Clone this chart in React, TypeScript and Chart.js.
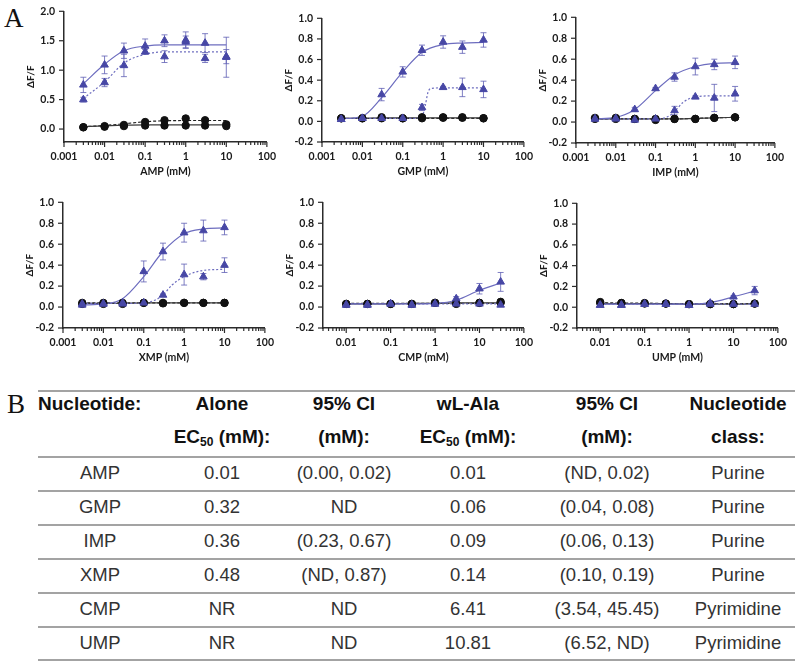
import React, { useEffect, useRef } from 'react';
import { Chart, registerables } from 'chart.js';
Chart.register(...registerables);

// ---------- data ----------
const concPurine = [0.003, 0.01, 0.03, 0.1, 0.3, 1, 3, 10];
const concPyrimidine = [0.01, 0.03, 0.1, 0.3, 1, 3, 10, 30];
const xTicksFull = [0.001, 0.01, 0.1, 1, 10, 100];
const xTicksShort = [0.01, 0.1, 1, 10, 100];
const yTicksAMP = [0, 0.5, 1, 1.5, 2];
const yTicksStd = [-0.2, 0, 0.2, 0.4, 0.6, 0.8, 1.0];

// AMP
const ampLAla = [0.75, 1.09, 1.33, 1.41, 1.5, 1.51, 1.46, 1.22];
const ampLAlaErr = [0.13, 0.15, 0.13, 0.12, 0.1, 0.14, 0.16, 0.34];
const ampAlone = [0.5, 0.79, 1.08, 1.31, 1.23, 1.48, 1.2, 1.23];
const ampAloneErr = [0.04, 0.07, 0.19, 0.04, 0.1, 0.1, 0.07, 0.12];
const ampCtrlLAla = [0.03, 0.04, 0.05, 0.06, 0.06, 0.06, 0.06, 0.05];
const ampCtrlAlone = [0.03, 0.05, 0.07, 0.12, 0.15, 0.18, 0.15, 0.08];
const ampFitLAla = [0.77, 1.1, 1.33, 1.41, 1.43, 1.43, 1.43, 1.43];
const ampFitAlone = [0.52, 0.8, 1.12, 1.27, 1.31, 1.31, 1.31, 1.31];
const ampFitCtrlLAla = [0.04, 0.055, 0.065, 0.07, 0.07, 0.07, 0.07, 0.07];
const ampFitCtrlAlone = [0.04, 0.06, 0.09, 0.125, 0.14, 0.145, 0.145, 0.145];

// GMP
const gmpLAla = [0.02, 0.03, 0.26, 0.48, 0.69, 0.77, 0.72, 0.79];
const gmpLAlaErr = [0.01, 0.01, 0.06, 0.05, 0.05, 0.06, 0.06, 0.07];
const gmpAlone = [0.02, 0.03, 0.03, 0.03, 0.135, 0.33, 0.33, 0.31];
const gmpAloneErr = [0, 0, 0, 0, 0.03, 0.01, 0.09, 0.08];
const gmpCtrlLAla = [0.03, 0.03, 0.04, 0.03, 0.04, 0.04, 0.04, 0.03];
const gmpCtrlAlone = [0.03, 0.03, 0.03, 0.03, 0.03, 0.035, 0.035, 0.03];
const gmpFitLAla = [0.025, 0.05, 0.23, 0.48, 0.67, 0.745, 0.76, 0.765];
const gmpFitAloneX = [0.003, 0.01, 0.03, 0.1, 0.2, 0.3, 0.36, 0.42, 0.5, 1, 3, 10];
const gmpFitAlone = [0.03, 0.03, 0.03, 0.03, 0.03, 0.05, 0.15, 0.28, 0.32, 0.325, 0.325, 0.325];
const gmpFitCtrlLAla = [0.03, 0.03, 0.035, 0.035, 0.035, 0.035, 0.035, 0.035];
const gmpFitCtrlAlone = [0.03, 0.03, 0.03, 0.03, 0.03, 0.03, 0.03, 0.03];

// IMP
const impLAla = [0.03, 0.035, 0.12, 0.32, 0.43, 0.53, 0.55, 0.57];
const impLAlaErr = [0.01, 0.01, 0.02, 0.01, 0.04, 0.08, 0.05, 0.06];
const impAlone = [0.03, 0.03, 0.02, 0.03, 0.11, 0.24, 0.23, 0.27];
const impAloneErr = [0.01, 0.01, 0.02, 0.01, 0.04, 0.01, 0.13, 0.07];
const impCtrlLAla = [0.04, 0.04, 0.03, 0.03, 0.03, 0.03, 0.04, 0.045];
const impCtrlAlone = [0.03, 0.03, 0.03, 0.02, 0.03, 0.03, 0.04, 0.045];
const impFitLAla = [0.03, 0.045, 0.12, 0.3, 0.45, 0.53, 0.56, 0.565];
const impFitAloneX = [0.003, 0.01, 0.03, 0.1, 0.2, 0.3, 0.5, 1, 3, 10];
const impFitAlone = [0.03, 0.03, 0.03, 0.03, 0.05, 0.1, 0.19, 0.24, 0.25, 0.25];
const impFitCtrlLAla = [0.03, 0.03, 0.03, 0.03, 0.03, 0.035, 0.04, 0.045];
const impFitCtrlAlone = [0.03, 0.03, 0.03, 0.03, 0.03, 0.035, 0.04, 0.045];

// XMP
const xmpLAla = [0.02, 0.03, 0.03, 0.34, 0.53, 0.71, 0.73, 0.76];
const xmpLAlaErr = [0.01, 0.01, 0.01, 0.1, 0.08, 0.09, 0.1, 0.07];
const xmpAlone = [0.03, 0.03, 0.04, 0.04, 0.115, 0.31, 0.29, 0.4];
const xmpAloneErr = [0.01, 0.01, 0.01, 0.01, 0.01, 0.1, 0.03, 0.07];
const xmpCtrlLAla = [0.03, 0.03, 0.03, 0.04, 0.035, 0.04, 0.04, 0.04];
const xmpCtrlAlone = [0.04, 0.04, 0.04, 0.04, 0.04, 0.04, 0.04, 0.04];
const xmpFitLAla = [0.02, 0.03, 0.08, 0.29, 0.53, 0.7, 0.745, 0.755];
const xmpFitAloneX = [0.003, 0.01, 0.03, 0.1, 0.2, 0.3, 0.5, 1, 3, 10];
const xmpFitAlone = [0.035, 0.035, 0.035, 0.04, 0.07, 0.115, 0.21, 0.29, 0.35, 0.36];
const xmpFitCtrlLAla = [0.035, 0.035, 0.035, 0.04, 0.04, 0.04, 0.04, 0.04];
const xmpFitCtrlAlone = [0.04, 0.04, 0.04, 0.04, 0.04, 0.04, 0.04, 0.04];

// CMP
const cmpLAla = [0.02, 0.02, 0.03, 0.02, 0.03, 0.08, 0.175, 0.24];
const cmpLAlaErr = [0.01, 0.01, 0.01, 0.01, 0.01, 0.02, 0.05, 0.09];
const cmpAlone = [0.02, 0.02, 0.03, 0.02, 0.03, 0.03, 0.03, 0.02];
const cmpAloneErr = [0.01, 0.01, 0, 0.01, 0.01, 0.01, 0.01, 0.01];
const cmpCtrlLAla = [0.03, 0.03, 0.03, 0.03, 0.04, 0.04, 0.04, 0.04];
const cmpCtrlAlone = [0.03, 0.03, 0.03, 0.03, 0.04, 0.03, 0.04, 0.05];
const cmpFitLAla = [0.03, 0.03, 0.03, 0.03, 0.035, 0.065, 0.16, 0.23];
const cmpFitAlone = [0.03, 0.03, 0.03, 0.03, 0.03, 0.03, 0.03, 0.03];
const cmpFitCtrlLAla = [0.03, 0.03, 0.03, 0.035, 0.035, 0.04, 0.04, 0.04];
const cmpFitCtrlAlone = [0.035, 0.035, 0.035, 0.035, 0.035, 0.035, 0.035, 0.035];

// UMP
const umpLAla = [0.02, 0.02, 0.03, 0.03, 0.02, 0.04, 0.1, 0.16];
const umpLAlaErr = [0.01, 0.01, 0.01, 0.01, 0.01, 0.01, 0.01, 0.04];
const umpAlone = [0.02, 0.02, 0.03, 0.03, 0.02, 0.03, 0.03, 0.03];
const umpAloneErr = [0.01, 0.01, 0.01, 0.01, 0.01, 0.01, 0.01, 0.01];
const umpCtrlLAla = [0.04, 0.04, 0.035, 0.035, 0.03, 0.03, 0.03, 0.035];
const umpCtrlAlone = [0.05, 0.04, 0.04, 0.035, 0.03, 0.03, 0.03, 0.035];
const umpFitLAla = [0.03, 0.03, 0.03, 0.03, 0.03, 0.045, 0.1, 0.155];
const umpFitAlone = [0.03, 0.03, 0.03, 0.03, 0.03, 0.03, 0.03, 0.03];
const umpFitCtrlLAla = [0.035, 0.035, 0.035, 0.035, 0.03, 0.03, 0.03, 0.035];
const umpFitCtrlAlone = [0.045, 0.04, 0.04, 0.035, 0.035, 0.035, 0.035, 0.035];

// Table
const tableNucleotides = ['AMP', 'GMP', 'IMP', 'XMP', 'CMP', 'UMP'];
const aloneEC50 = ['0.01', '0.32', '0.36', '0.48', 'NR', 'NR'];
const aloneCI = ['(0.00, 0.02)', 'ND', '(0.23, 0.67)', '(ND, 0.87)', 'ND', 'ND'];
const lalaEC50 = ['0.01', '0.06', '0.09', '0.14', '6.41', '10.81'];
const lalaCI = ['(ND, 0.02)', '(0.04, 0.08)', '(0.06, 0.13)', '(0.10, 0.19)', '(3.54, 45.45)', '(6.52, ND)'];
const nucClass = ['Purine', 'Purine', 'Purine', 'Purine', 'Pyrimidine', 'Pyrimidine'];

// ---------- plugins ----------
const errorBarPlugin = {
  id: 'errbars',
  beforeDatasetsDraw(chart: any) {
    const ctx = chart.ctx;
    const xs = chart.scales.x;
    const ys = chart.scales.y;
    chart.data.datasets.forEach((ds: any) => {
      if (!ds.errors) return;
      ctx.save();
      ctx.strokeStyle = ds.errColor;
      ctx.lineWidth = 1;
      ds.data.forEach((pt: any, i: number) => {
        const e = ds.errors[i];
        if (!e) return;
        const px = xs.getPixelForValue(pt.x);
        const y1 = ys.getPixelForValue(pt.y + e);
        const y2 = ys.getPixelForValue(pt.y - e);
        ctx.beginPath();
        ctx.moveTo(px, y1);
        ctx.lineTo(px, y2);
        ctx.moveTo(px - 3, y1);
        ctx.lineTo(px + 3, y1);
        ctx.moveTo(px - 3, y2);
        ctx.lineTo(px + 3, y2);
        ctx.stroke();
      });
      ctx.restore();
    });
  },
};

const tickPlugin = {
  id: 'tickmarks',
  afterDraw(chart: any) {
    const { ctx, chartArea } = chart;
    const xs = chart.scales.x;
    const ys = chart.scales.y;
    ctx.save();
    ctx.strokeStyle = '#2b2b2b';
    ctx.lineWidth = 1.2;
    const min = xs.min;
    const max = xs.max;
    for (let e = Math.floor(Math.log10(min)); e <= Math.ceil(Math.log10(max)); e++) {
      for (let m = 1; m <= 9; m++) {
        const v = m * Math.pow(10, e);
        if (v < min * 0.999 || v > max * 1.001) continue;
        const px = xs.getPixelForValue(v);
        ctx.beginPath();
        ctx.moveTo(px, chartArea.bottom);
        ctx.lineTo(px, chartArea.bottom + (m === 1 ? 5 : 3));
        ctx.stroke();
      }
    }
    ys.ticks.forEach((t: any) => {
      const py = ys.getPixelForValue(t.value);
      ctx.beginPath();
      ctx.moveTo(chartArea.left - 5, py);
      ctx.lineTo(chartArea.left, py);
      ctx.stroke();
    });
    ctx.restore();
  },
};

// ---------- panel ----------
type PanelProps = {
  L: number; R: number; T: number; B: number;
  xMin: number; xMax: number; xTicks: number[];
  yMin: number; yMax: number; yTicks: number[];
  title: string;
  conc: number[];
  lala: number[]; lalaErr: number[];
  alone: number[]; aloneErr: number[];
  ctrlLala: number[]; ctrlAlone: number[];
  fitLala: number[]; fitAloneX?: number[]; fitAlone: number[];
  fitCtrlLala: number[]; fitCtrlAlone: number[];
};

const TRI = '#4747a5';
const TRI_LINE = '#6d6dbf';
const TRI_ERR = 'rgba(95,95,180,0.8)';
const BLACK = '#111111';
const FONT = "Lato, 'DejaVu Sans', sans-serif";

function Panel(p: PanelProps) {
  const ref = useRef<HTMLCanvasElement>(null);
  const W = p.R - p.L + 44 + 14;
  const H = p.B - p.T + 8 + 38;
  useEffect(() => {
    const pts = (xs: number[], ys: number[]) => xs.map((x, i) => ({ x, y: ys[i] }));
    const tickFont = { family: FONT, weight: 'bold' as const, size: 10.5 };
    const chart = new Chart(ref.current!, {
      type: 'line',
      data: {
        datasets: [
          { data: pts(p.conc, p.lala), showLine: false, pointStyle: 'triangle', pointRadius: 4.4, backgroundColor: TRI, borderColor: TRI, borderWidth: 1, order: 1, errors: p.lalaErr, errColor: TRI_ERR } as any,
          { data: pts(p.conc, p.alone), showLine: false, pointStyle: 'triangle', pointRadius: 4.4, backgroundColor: TRI, borderColor: TRI, borderWidth: 1, order: 2, errors: p.aloneErr, errColor: TRI_ERR } as any,
          { data: pts(p.conc, p.ctrlLala), showLine: false, pointStyle: 'circle', pointRadius: 3.7, backgroundColor: BLACK, borderColor: BLACK, order: 3 } as any,
          { data: pts(p.conc, p.ctrlAlone), showLine: false, pointStyle: 'circle', pointRadius: 3.7, backgroundColor: BLACK, borderColor: BLACK, order: 4 } as any,
          { data: pts(p.conc, p.fitLala), pointRadius: 0, borderColor: TRI_LINE, borderWidth: 1.2, cubicInterpolationMode: 'monotone', order: 5 } as any,
          { data: pts(p.fitAloneX || p.conc, p.fitAlone), pointRadius: 0, borderColor: TRI_LINE, borderWidth: 1.2, borderDash: [2, 2], cubicInterpolationMode: 'monotone', order: 6 } as any,
          { data: pts(p.conc, p.fitCtrlLala), pointRadius: 0, borderColor: '#3a3a3a', borderWidth: 1.2, cubicInterpolationMode: 'monotone', order: 7 } as any,
          { data: pts(p.conc, p.fitCtrlAlone), pointRadius: 0, borderColor: '#222', borderWidth: 1.2, borderDash: [3, 2], cubicInterpolationMode: 'monotone', order: 8 } as any,
        ],
      },
      options: {
        animation: false,
        responsive: false,
        maintainAspectRatio: false,
        layout: { padding: { left: 0, right: 14, top: 8, bottom: 0 } },
        plugins: { legend: { display: false }, tooltip: { enabled: false } },
        scales: {
          x: {
            type: 'logarithmic',
            min: p.xMin,
            max: p.xMax,
            afterBuildTicks: (s: any) => { s.ticks = p.xTicks.map((v) => ({ value: v })); },
            afterFit: (s: any) => { s.height = 38; },
            grid: { display: false, drawTicks: false, tickLength: 0 },
            border: { display: true, color: '#2b2b2b', width: 1.5 },
            ticks: { autoSkip: false, maxRotation: 0, padding: 8, color: '#1a1a1a', font: tickFont, callback: (v: any) => String(v) },
            title: { display: true, text: p.title, color: '#1a1a1a', font: { family: FONT, weight: 'bold', size: 10.5 } as any, padding: { top: 0, bottom: 2 } },
          },
          y: {
            type: 'linear',
            min: p.yMin,
            max: p.yMax,
            afterBuildTicks: (s: any) => { s.ticks = p.yTicks.map((v) => ({ value: v })); },
            afterFit: (s: any) => { s.width = 44; },
            grid: { display: false, drawTicks: false, tickLength: 0 },
            border: { display: true, color: '#2b2b2b', width: 1.5 },
            ticks: { padding: 9, color: '#1a1a1a', font: tickFont, callback: (v: any) => Number(v).toFixed(1) },
            title: { display: true, text: 'ΔF/F', color: '#1a1a1a', font: { family: FONT, weight: 'bold', size: 10 } as any, padding: { top: 5, bottom: 0 } },
          },
        },
      } as any,
      plugins: [errorBarPlugin, tickPlugin],
    });
    return () => chart.destroy();
  }, []);
  return (
    <canvas
      ref={ref}
      width={W}
      height={H}
      style={{ position: 'absolute', left: p.L - 44, top: p.T - 8, width: W, height: H }}
    />
  );
}

// ---------- table ----------
const colCenters = [100, 222, 344, 468, 607, 738];
const lineYs = [390, 456, 490, 524, 558, 592, 626, 659];
const TABLE_FONT = "'Liberation Sans', Arial, sans-serif";

function Cell({ cx, cy, children, bold }: { cx: number; cy: number; children: any; bold?: boolean }) {
  return (
    <div
      style={{
        position: 'absolute', left: cx - 90, top: cy - 11, width: 180, height: 22, lineHeight: '22px',
        textAlign: 'center', whiteSpace: 'nowrap',
        fontFamily: TABLE_FONT,
        fontWeight: bold ? 700 : 400, fontSize: bold ? 19 : 18.5, color: bold ? '#111' : '#333',
      }}
    >
      {children}
    </div>
  );
}

const EC = () => (
  <span>EC<span style={{ fontSize: 12, position: 'relative', top: 3 }}>50</span> (mM):</span>
);

function Table() {
  const rowCy = (i: number) => (lineYs[i + 1] + lineYs[i + 2]) / 2;
  return (
    <>
      {lineYs.map((y, i) => (
        <div key={'l' + i} style={{ position: 'absolute', left: 38, top: y, width: 757, height: 1.5, background: '#a3a3a3' }} />
      ))}
      <div style={{ position: 'absolute', left: 38, top: 404 - 11, height: 22, lineHeight: '22px', fontFamily: TABLE_FONT, fontWeight: 700, fontSize: 19, color: '#111' }}>Nucleotide:</div>
      <Cell cx={colCenters[1]} cy={404} bold>Alone</Cell>
      <Cell cx={colCenters[2]} cy={404} bold>95% CI</Cell>
      <Cell cx={colCenters[3]} cy={404} bold>wL-Ala</Cell>
      <Cell cx={colCenters[4]} cy={404} bold>95% CI</Cell>
      <Cell cx={colCenters[5]} cy={404} bold>Nucleotide</Cell>
      <Cell cx={colCenters[1]} cy={437} bold><EC /></Cell>
      <Cell cx={colCenters[2]} cy={437} bold>(mM):</Cell>
      <Cell cx={colCenters[3]} cy={437} bold><EC /></Cell>
      <Cell cx={colCenters[4]} cy={437} bold>(mM):</Cell>
      <Cell cx={colCenters[5]} cy={437} bold>class:</Cell>
      {tableNucleotides.map((n, i) => (
        <React.Fragment key={n}>
          <Cell cx={colCenters[0]} cy={rowCy(i)}>{n}</Cell>
          <Cell cx={colCenters[1]} cy={rowCy(i)}>{aloneEC50[i]}</Cell>
          <Cell cx={colCenters[2]} cy={rowCy(i)}>{aloneCI[i]}</Cell>
          <Cell cx={colCenters[3]} cy={rowCy(i)}>{lalaEC50[i]}</Cell>
          <Cell cx={colCenters[4]} cy={rowCy(i)}>{lalaCI[i]}</Cell>
          <Cell cx={colCenters[5]} cy={rowCy(i)}>{nucClass[i]}</Cell>
        </React.Fragment>
      ))}
    </>
  );
}

export default function App() {
  const letter = { position: 'absolute' as const, fontFamily: "'Liberation Serif', 'Times New Roman', serif", fontSize: 27, lineHeight: '30px', color: '#111' };
  return (
    <div style={{ position: 'absolute', left: 0, top: 0, width: 800, height: 661, background: '#fff', overflow: 'hidden' }}>
      <div style={{ ...letter, left: 4, top: 3 }}>A</div>
      <div style={{ ...letter, left: 7, top: 389 }}>B</div>
      <Panel L={64} R={270} T={4} B={142} xMin={0.001} xMax={100} xTicks={xTicksFull} yMin={-0.22} yMax={2} yTicks={yTicksAMP} title="AMP (mM)"
        conc={concPurine} lala={ampLAla} lalaErr={ampLAlaErr} alone={ampAlone} aloneErr={ampAloneErr} ctrlLala={ampCtrlLAla} ctrlAlone={ampCtrlAlone}
        fitLala={ampFitLAla} fitAlone={ampFitAlone} fitCtrlLala={ampFitCtrlLAla} fitCtrlAlone={ampFitCtrlAlone} />
      <Panel L={322} R={527} T={11} B={142} xMin={0.001} xMax={100} xTicks={xTicksFull} yMin={-0.2} yMax={1} yTicks={yTicksStd} title="GMP (mM)"
        conc={concPurine} lala={gmpLAla} lalaErr={gmpLAlaErr} alone={gmpAlone} aloneErr={gmpAloneErr} ctrlLala={gmpCtrlLAla} ctrlAlone={gmpCtrlAlone}
        fitLala={gmpFitLAla} fitAloneX={gmpFitAloneX} fitAlone={gmpFitAlone} fitCtrlLala={gmpFitCtrlLAla} fitCtrlAlone={gmpFitCtrlAlone} />
      <Panel L={576} R={778} T={10} B={143} xMin={0.001} xMax={100} xTicks={xTicksFull} yMin={-0.2} yMax={1} yTicks={yTicksStd} title="IMP (mM)"
        conc={concPurine} lala={impLAla} lalaErr={impLAlaErr} alone={impAlone} aloneErr={impAloneErr} ctrlLala={impCtrlLAla} ctrlAlone={impCtrlAlone}
        fitLala={impFitLAla} fitAloneX={impFitAloneX} fitAlone={impFitAlone} fitCtrlLala={impFitCtrlLAla} fitCtrlAlone={impFitCtrlAlone} />
      <Panel L={63} R={268} T={195} B={328} xMin={0.001} xMax={100} xTicks={xTicksFull} yMin={-0.2} yMax={1} yTicks={yTicksStd} title="XMP (mM)"
        conc={concPurine} lala={xmpLAla} lalaErr={xmpLAlaErr} alone={xmpAlone} aloneErr={xmpAloneErr} ctrlLala={xmpCtrlLAla} ctrlAlone={xmpCtrlAlone}
        fitLala={xmpFitLAla} fitAloneX={xmpFitAloneX} fitAlone={xmpFitAlone} fitCtrlLala={xmpFitCtrlLAla} fitCtrlAlone={xmpFitCtrlAlone} />
      <Panel L={323} R={527} T={195} B={328} xMin={0.003} xMax={100} xTicks={xTicksShort} yMin={-0.2} yMax={1} yTicks={yTicksStd} title="CMP (mM)"
        conc={concPyrimidine} lala={cmpLAla} lalaErr={cmpLAlaErr} alone={cmpAlone} aloneErr={cmpAloneErr} ctrlLala={cmpCtrlLAla} ctrlAlone={cmpCtrlAlone}
        fitLala={cmpFitLAla} fitAlone={cmpFitAlone} fitCtrlLala={cmpFitCtrlLAla} fitCtrlAlone={cmpFitCtrlAlone} />
      <Panel L={577} R={781} T={196} B={328} xMin={0.003} xMax={100} xTicks={xTicksShort} yMin={-0.2} yMax={1} yTicks={yTicksStd} title="UMP (mM)"
        conc={concPyrimidine} lala={umpLAla} lalaErr={umpLAlaErr} alone={umpAlone} aloneErr={umpAloneErr} ctrlLala={umpCtrlLAla} ctrlAlone={umpCtrlAlone}
        fitLala={umpFitLAla} fitAlone={umpFitAlone} fitCtrlLala={umpFitCtrlLAla} fitCtrlAlone={umpFitCtrlAlone} />
      <Table />
    </div>
  );
}
